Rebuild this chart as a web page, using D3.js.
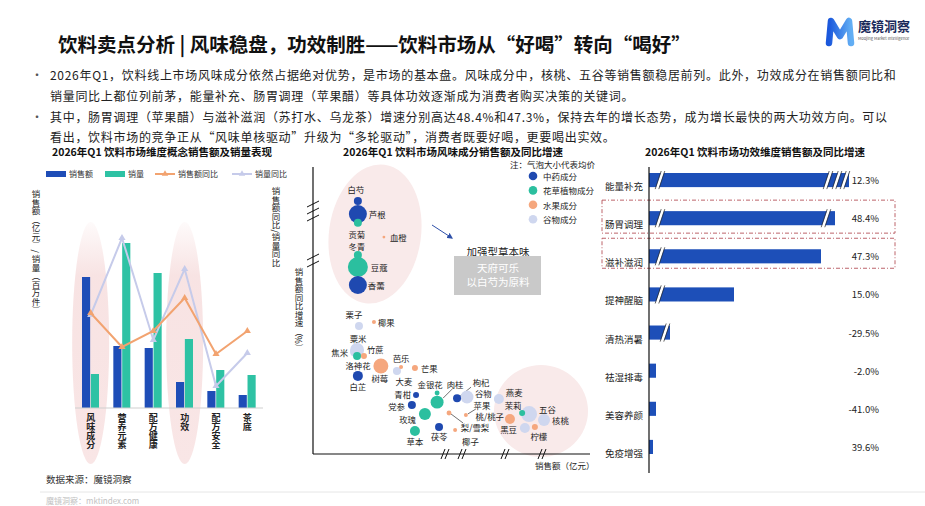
<!DOCTYPE html>
<html>
<head>
<meta charset="utf-8">
<title>饮料卖点分析</title>
<script src="https://cdn.jsdelivr.net/npm/d3@7"></script>
<style>
    body { margin: 0; background: #fff; }
    svg text { font-family: "Noto Sans CJK SC", "Noto Sans", sans-serif; }
</style>
</head>
<body>
<script>

    // ---- data ----
    var paragraphLines = [
        "2026年Q1，饮料线上市场风味成分依然占据绝对优势，是市场的基本盘。风味成分中，核桃、五谷等销售额稳居前列。此外，功效成分在销售额同比和",
        "销量同比上都位列前茅，能量补充、肠胃调理（苹果醋）等具体功效逐渐成为消费者购买决策的关键词。",
        "其中，肠胃调理（苹果醋）与滋补滋润（苏打水、乌龙茶）增速分别高达48.4%和47.3%，保持去年的增长态势，成为增长最快的两大功效方向。可以",
        "看出，饮料市场的竞争正从“风味单核驱动”升级为“多轮驱动”，消费者既要好喝，更要喝出实效。"
    ];
    var bulletLines = [0, 2];

    // left chart: dimension concepts
    var dimCats = ["风味成分", "营养元素", "配方健康", "功效", "配方安全", "茶底"];
    var dimSales = [131, 62, 60, 26, 17, 13];
    var dimVolume = [34, 165, 135, 69, 38, 33];
    var dimSalesYoy = [95, 61, 77, 110, 54, 77];
    var dimVolumeYoy = [93, 170, 68, 139, 22, 55];
    var dimHighlight = ["风味成分", "功效"];

    // middle chart: flavour ingredients
    var typeNames = ["中药成分", "花草植物成分", "水果成分", "谷物成分"];
    var flavorNames = ["白芍", "芦根", "贡菊", "血橙", "冬青", "豆蔻", "香薷", "栗子", "椰果", "粟米", "焦米", "洛神花",
        "竹蔗", "树莓", "白芷", "芭乐", "大麦", "芒果", "金银花", "肉桂", "青柑", "枸杞", "党参", "谷物", "燕麦", "茉莉",
        "苹果", "梨/雪梨", "玫瑰", "五谷", "核桃", "桃/桃子", "黑豆", "柠檬", "草本", "茯苓", "椰子"];
    var flavorTypes = ["中药成分", "中药成分", "花草植物成分", "水果成分", "花草植物成分", "花草植物成分", "中药成分",
        "谷物成分", "水果成分", "谷物成分", "谷物成分", "花草植物成分", "水果成分", "水果成分", "中药成分", "水果成分",
        "谷物成分", "水果成分", "花草植物成分", "花草植物成分", "中药成分", "中药成分", "中药成分", "谷物成分", "谷物成分",
        "花草植物成分", "水果成分", "水果成分", "花草植物成分", "谷物成分", "谷物成分", "水果成分", "谷物成分", "水果成分",
        "花草植物成分", "中药成分", "水果成分"];
    var flavorSales = [16.2, 16.2, 16.2, 25.6, 16.2, 16.2, 16.2, 16.6, 22.0, 15.9, 15.2, 15.9, 18.4, 24.5, 16.2, 31.8,
        30.3, 36.8, 44.8, 44.8, 37.2, 52.0, 35.7, 55.6, 67.1, 75.5, 55.2, 49.1, 40.4, 78.0, 83.4, 71.1, 76.5, 80.1,
        36.8, 45.5, 51.3];
    var flavorGrowth = [88.8, 84.2, 81.1, 76.1, 69.8, 65.6, 59.3, 44.9, 46.3, 36.5, 35.8, 34.4, 34.4, 30.9, 27.4, 30.5,
        29.1, 30.2, 21.4, 18.2, 20.7, 19.6, 17.2, 20.0, 19.3, 14.4, 13.7, 14.4, 14.0, 14.0, 11.9, 12.3, 9.1, 9.5,
        8.1, 9.5, 8.4];
    var flavorPrice = [16, 81, 16, 2, 16, 100, 81, 16, 4, 49, 25, 16, 9, 56, 25, 4, 16, 9, 6, 42, 9, 16, 16, 42, 25, 9,
        4, 6, 36, 64, 36, 25, 25, 9, 25, 16, 4];

    // right chart: efficacy
    var effectCats = ["能量补充", "肠胃调理", "滋补滋润", "提神醒脑", "清热消暑", "祛湿排毒", "美容养颜", "免疫增强"];
    var effectSales = [100, 93, 86, 42.5, 10.5, 3.5, 3.5, 2];
    var effectYoy = [12.3, 48.4, 47.3, 15.0, -29.5, -2.0, -41.0, 39.6];
    var effectHighlight = ["肠胃调理", "滋补滋润"];

    // ---- layout / style ----
    var width = 925, height = 506;
    var blue = "#1e4db7", teal = "#2ec2a4", orange = "#f2a370", lilac = "#c6cbea";
    var typeColors = ["#1f49b0", "#2bbf9f", "#f5a77e", "#cfd7ef"];

    // label offsets for the bubbles [dx, dy, anchor, leader]
    var labelPos = {
        "白芍": [-2, -12, "middle"], "芦根": [11, 0, "start"], "贡菊": [-1, 11, "middle"], "血橙": [6, 0, "start"],
        "冬青": [-1, -9, "middle"], "豆蔻": [13, 0, "start"], "香薷": [10, 0, "start"], "栗子": [-5, -12, "middle"],
        "椰果": [4, 0, "start"], "粟米": [1, -12, "middle"], "焦米": [-7, 0, "end"], "洛神花": [1, 9, "middle"],
        "竹蔗": [3, -7, "start"], "树莓": [-1, 12, "middle"], "白芷": [0, 10, "middle"], "芭乐": [0, -9, "middle"],
        "大麦": [7, 10, "middle"], "芒果": [6, 0, "start"], "金银花": [-7, -9, "middle"],
        "肉桂": [18, -18, "middle", [6, -4, 15, -13]], "青柑": [-5, -1, "end"],
        "枸杞": [24, -16, "middle", [3, -2, 14, -11]], "党参": [-7, 1, "end"], "谷物": [8, -4.5, "start"],
        "燕麦": [7, -7, "start"], "茉莉": [-9, -8, "middle", [-2, -3, -6, -7]],
        "苹果": [16, -10, "middle", [2, -1, 10, -6]], "梨/雪梨": [26, 14, "middle", [2, 1, 14, 10]],
        "玫瑰": [-9, 5, "end"], "五谷": [10, -5, "start"], "核桃": [8, 0, "start"], "桃/桃子": [-6, -3, "end"],
        "黑豆": [-8, 1, "end"], "柠檬": [4, 9, "middle"], "草本": [0, 10, "middle"], "茯苓": [0, 9, "middle"],
        "椰子": [7, 10.5, "start"]
    };

    var svg = d3.select("body")
        .append("svg")
        .attr("width", width)
        .attr("height", height);

    var defs = svg.append("defs");
    var hg = defs.append("linearGradient").attr("id", "hl").attr("x1", 0).attr("y1", 0).attr("x2", 0).attr("y2", 1);
    hg.append("stop").attr("offset", "0%").attr("stop-color", "#f7e0e0").attr("stop-opacity", 0.15);
    hg.append("stop").attr("offset", "22%").attr("stop-color", "#f7e0e0").attr("stop-opacity", 0.9);
    hg.append("stop").attr("offset", "100%").attr("stop-color", "#f9e6e6").attr("stop-opacity", 1);
    var lg = defs.append("linearGradient").attr("id", "logo").attr("x1", 0).attr("y1", 0).attr("x2", 1).attr("y2", 0);
    lg.append("stop").attr("offset", "0%").attr("stop-color", "#1b58dc");
    lg.append("stop").attr("offset", "100%").attr("stop-color", "#62aef4");
    defs.append("marker").attr("id", "arrow").attr("viewBox", "0 0 10 10").attr("refX", 8).attr("refY", 5)
        .attr("markerWidth", 6).attr("markerHeight", 6).attr("orient", "auto")
        .append("path").attr("d", "M0,0 L10,5 L0,10 z").attr("fill", "#2d4fa8");

    // ---- header ----
    svg.append("text").attr("x", 58).attr("y", 52)
        .attr("font-size", 19.5).attr("font-weight", 700).attr("fill", "#111")
        .text("饮料卖点分析 | 风味稳盘，功效制胜——饮料市场从“好喝”转向“喝好”");

    var logo = svg.append("g");
    logo.append("path").attr("d", "M829,43 L831,21 L840,36 L849,21 L851,43")
        .attr("fill", "none").attr("stroke", "url(#logo)").attr("stroke-width", 6.5)
        .attr("stroke-linecap", "round").attr("stroke-linejoin", "round");
    logo.append("text").attr("x", 858).attr("y", 31).attr("font-size", 13).attr("font-weight", 700)
        .attr("fill", "#1a2a5a").text("魔镜洞察");
    logo.append("text").attr("x", 858).attr("y", 40).attr("font-size", 4).attr("fill", "#555")
        .text("Moojing Market Intelligence");

    var lineY = [80, 101, 122, 142];
    paragraphLines.forEach(function (t, i) {
        svg.append("text").attr("x", 50).attr("y", lineY[i]).attr("font-size", 12)
            .attr("letter-spacing", 0.7).attr("fill", "#222").text(t);
    });
    bulletLines.forEach(function (i) {
        svg.append("text").attr("x", 31).attr("y", lineY[i]).attr("font-size", 12).attr("fill", "#555").text("·");
    });

    // ---- left chart ----
    var left = svg.append("g");
    left.append("text").attr("x", 162).attr("y", 156).attr("text-anchor", "middle")
        .attr("font-size", 10.5).attr("font-weight", 700).attr("fill", "#111")
        .text("2026年Q1 饮料市场维度概念销售额及销量表现");

    var x0 = d3.scaleBand().domain(dimCats).range([75, 263]);
    var x1 = d3.scaleBand().domain(["销售额", "销量"]).range([7, 24]).paddingInner(0.08);
    var yL = d3.scaleLinear().domain([0, 180]).range([408, 228]);
    var yR = d3.scaleLinear().domain([0, 180]).range([408, 228]);

    left.selectAll("ellipse.hl").data(dimHighlight).enter().append("ellipse")
        .attr("cx", function (d) { return x0(d) + x0.bandwidth() / 2; })
        .attr("cy", 343).attr("rx", 18.5).attr("ry", 121)
        .attr("fill", "url(#hl)");

    var groups = left.selectAll("g.cat").data(dimCats).enter().append("g")
        .attr("transform", function (d) { return "translate(" + x0(d) + ",0)"; });
    groups.append("rect").attr("x", x1("销售额")).attr("width", x1.bandwidth())
        .attr("y", function (d, i) { return yL(dimSales[i]); })
        .attr("height", function (d, i) { return yL(0) - yL(dimSales[i]); })
        .attr("fill", blue);
    groups.append("rect").attr("x", x1("销量")).attr("width", x1.bandwidth())
        .attr("y", function (d, i) { return yL(dimVolume[i]); })
        .attr("height", function (d, i) { return yL(0) - yL(dimVolume[i]); })
        .attr("fill", teal);

    left.append("line").attr("x1", 75).attr("x2", 263).attr("y1", yL(0)).attr("y2", yL(0))
        .attr("stroke", "#cfcfcf").attr("stroke-width", 1);

    var cx = function (d, i) { return x0(dimCats[i]) + x0.bandwidth() / 2; };
    [[dimVolumeYoy, lilac], [dimSalesYoy, orange]].forEach(function (s) {
        var line = d3.line().x(function (d, i) { return cx(d, i); }).y(function (d) { return yR(d); });
        left.append("path").datum(s[0]).attr("d", line).attr("fill", "none")
            .attr("stroke", s[1]).attr("stroke-width", 2);
        left.selectAll(null).data(s[0]).enter().append("path")
            .attr("d", d3.symbol(d3.symbolTriangle, 22))
            .attr("transform", function (d, i) { return "translate(" + cx(d, i) + "," + yR(d) + ")"; })
            .attr("fill", s[1]);
    });

    left.selectAll("text.cat").data(dimCats).enter().append("text")
        .attr("x", function (d) { return x0(d) + x0.bandwidth() / 2; })
        .attr("y", 413)
        .style("writing-mode", "vertical-rl")
        .attr("font-size", 9).attr("font-weight", 700).attr("fill", "#222")
        .text(function (d) { return d; });

    // legend
    var leg = left.append("g").attr("font-size", 8).attr("fill", "#333");
    leg.append("rect").attr("x", 46).attr("y", 171).attr("width", 20).attr("height", 6).attr("fill", blue);
    leg.append("text").attr("x", 69).attr("y", 177).text("销售额");
    leg.append("rect").attr("x", 105).attr("y", 171).attr("width", 20).attr("height", 6).attr("fill", teal);
    leg.append("text").attr("x", 128).attr("y", 177).text("销量");
    [[155, orange, "销售额同比"], [232, lilac, "销量同比"]].forEach(function (l) {
        leg.append("line").attr("x1", l[0]).attr("x2", l[0] + 20).attr("y1", 174).attr("y2", 174)
            .attr("stroke", l[1]).attr("stroke-width", 2);
        leg.append("path").attr("d", d3.symbol(d3.symbolTriangle, 18))
            .attr("transform", "translate(" + (l[0] + 10) + ",174)").attr("fill", l[1]);
        leg.append("text").attr("x", l[0] + 23).attr("y", 177).text(l[2]);
    });

    left.append("text").attr("x", 36).attr("y", 190).style("writing-mode", "vertical-rl")
        .attr("font-size", 8.5).attr("fill", "#222").text("销售额（亿元）/ 销量（百万件）");
    left.append("text").attr("x", 276).attr("y", 187).style("writing-mode", "vertical-rl")
        .attr("font-size", 8.5).attr("fill", "#222").text("销售额同比/销量同比");

    // ---- middle chart ----
    var mid = svg.append("g");
    mid.append("text").attr("x", 453).attr("y", 156).attr("text-anchor", "middle")
        .attr("font-size", 10.5).attr("font-weight", 700).attr("fill", "#111")
        .text("2026年Q1 饮料市场风味成分销售额及同比增速");

    var xM = d3.scaleLinear().domain([0, 100]).range([313, 590]);
    var yM = d3.scaleLinear().domain([0, 100]).range([454, 169]);
    var rM = d3.scaleSqrt().domain([0, 100]).range([0, 10]);
    var colorM = d3.scaleOrdinal().domain(typeNames).range(typeColors);

    mid.append("ellipse").attr("cx", 375).attr("cy", 234).attr("rx", 46).attr("ry", 70)
        .attr("transform", "rotate(8,375,234)").attr("fill", "#f9eaea");
    mid.append("ellipse").attr("cx", 541).attr("cy", 411).attr("rx", 47).attr("ry", 46).attr("fill", "#f9eaea");

    mid.append("text").attr("x", 299).attr("y", 268).style("writing-mode", "vertical-rl")
        .attr("font-size", 8.5).attr("fill", "#222").text("销售额同比增速（%）");

    var bubbles = flavorNames.map(function (n, i) {
        return { name: n, type: flavorTypes[i], sales: flavorSales[i], growth: flavorGrowth[i], price: flavorPrice[i] };
    });

    // leader lines
    bubbles.forEach(function (b) {
        var p = labelPos[b.name];
        if (p && p[3]) {
            mid.append("line")
                .attr("x1", xM(b.sales) + p[3][0]).attr("y1", yM(b.growth) + p[3][1])
                .attr("x2", xM(b.sales) + p[3][2]).attr("y2", yM(b.growth) + p[3][3])
                .attr("stroke", "#333").attr("stroke-width", 0.7);
        }
    });

    mid.selectAll("circle.b").data(bubbles.slice().sort(function (a, b) { return b.price - a.price; }))
        .enter().append("circle")
        .attr("cx", function (d) { return xM(d.sales); })
        .attr("cy", function (d) { return yM(d.growth); })
        .attr("r", function (d) { return rM(d.price); })
        .attr("fill", function (d) { return colorM(d.type); });

    mid.selectAll("text.b").data(bubbles).enter().append("text")
        .attr("x", function (d) { return xM(d.sales) + labelPos[d.name][0]; })
        .attr("y", function (d) { return yM(d.growth) + labelPos[d.name][1]; })
        .attr("text-anchor", function (d) { return labelPos[d.name][2]; })
        .attr("dominant-baseline", "central")
        .attr("font-size", 8.4).attr("fill", "#222")
        .text(function (d) { return d.name; });

    // axes with break marks
    mid.append("line").attr("x1", xM(0)).attr("x2", xM(0)).attr("y1", 167).attr("y2", yM(0))
        .attr("stroke", "#111").attr("stroke-width", 1.2);
    mid.append("line").attr("x1", xM(0)).attr("x2", xM(100)).attr("y1", yM(0)).attr("y2", yM(0))
        .attr("stroke", "#111").attr("stroke-width", 1.2);
    [204, 211, 218, 257, 264].forEach(function (y) {
        mid.append("line").attr("x1", xM(0) - 6).attr("y1", y + 3).attr("x2", xM(0) + 6).attr("y2", y - 3)
            .attr("stroke", "#111").attr("stroke-width", 1);
    });
    [445, 462, 505, 542].forEach(function (x) {
        [-2, 2].forEach(function (o) {
            mid.append("line").attr("x1", x + o - 2).attr("y1", yM(0) + 5).attr("x2", x + o + 2).attr("y2", yM(0) - 5)
                .attr("stroke", "#111").attr("stroke-width", 1);
        });
    });
    mid.append("text").attr("x", 535).attr("y", 469).attr("font-size", 8.5).attr("fill", "#222").text("销售额（亿元）");

    // legend
    mid.append("text").attr("x", 510).attr("y", 168).attr("font-size", 8.5).attr("fill", "#222").text("注：气泡大小代表均价");
    typeNames.forEach(function (t, i) {
        mid.append("circle").attr("cx", 533).attr("cy", 176 + i * 14.4).attr("r", 4.3).attr("fill", typeColors[i]);
        mid.append("text").attr("x", 543).attr("y", 176 + i * 14.4).attr("dominant-baseline", "central")
            .attr("font-size", 8.5).attr("fill", "#222").text(t);
    });

    // annotation
    mid.append("line").attr("x1", 432).attr("y1", 225).attr("x2", 452).attr("y2", 238)
        .attr("stroke", "#2d4fa8").attr("stroke-width", 1).attr("marker-end", "url(#arrow)");
    mid.append("text").attr("x", 498).attr("y", 251).attr("text-anchor", "middle").attr("dominant-baseline", "central")
        .attr("font-size", 10.5).attr("fill", "#222").text("加强型草本味");
    mid.append("rect").attr("x", 454).attr("y", 256).attr("width", 87).attr("height", 39).attr("fill", "#c9c9c9");
    mid.append("text").attr("x", 498).attr("y", 267).attr("text-anchor", "middle").attr("dominant-baseline", "central")
        .attr("font-size", 10.5).attr("fill", "#fff").text("天府可乐");
    mid.append("text").attr("x", 498).attr("y", 281).attr("text-anchor", "middle").attr("dominant-baseline", "central")
        .attr("font-size", 10.5).attr("fill", "#fff").text("以白芍为原料");

    // ---- right chart ----
    var right = svg.append("g");
    right.append("text").attr("x", 755).attr("y", 156).attr("text-anchor", "middle")
        .attr("font-size", 10.5).attr("font-weight", 700).attr("fill", "#111")
        .text("2026年Q1 饮料市场功效维度销售额及同比增速");

    var xE = d3.scaleLinear().domain([0, 100]).range([649, 849]);
    var yE = d3.scaleBand().domain(effectCats).range([161, 466]).paddingInner(0.63).paddingOuter(0.315);

    right.selectAll("rect.hb").data(effectHighlight).enter().append("rect")
        .attr("x", 602).attr("width", 293)
        .attr("y", function (d) { return yE(d) - 11; })
        .attr("height", function (d, i) { return i === 0 ? 33 : 30; })
        .attr("fill", "none").attr("stroke", "#b5525a").attr("stroke-width", 0.9)
        .attr("stroke-dasharray", "4,2,1,2");

    right.selectAll("rect.bar").data(effectCats).enter().append("rect")
        .attr("x", xE(0)).attr("y", function (d) { return yE(d); })
        .attr("width", function (d, i) { return xE(effectSales[i]) - xE(0); })
        .attr("height", yE.bandwidth()).attr("fill", "#1d4fb8");

    // break marks on the long bars
    var breaks = [[5.5, 89.5, 94, 98], [5.5, 88.5], [5.5], [5.5], [8]];
    breaks.forEach(function (bx, i) {
        var y0 = yE(effectCats[i]), h = yE.bandwidth();
        bx.forEach(function (v) {
            var x = xE(v);
            right.append("line").attr("x1", x - 3).attr("y1", y0 + h + 2).attr("x2", x + 3).attr("y2", y0 - 2)
                .attr("stroke", "#fff").attr("stroke-width", 3);
            [-1.8, 1.8].forEach(function (o) {
                right.append("line").attr("x1", x - 3 + o).attr("y1", y0 + h + 2).attr("x2", x + 3 + o).attr("y2", y0 - 2)
                    .attr("stroke", "#222").attr("stroke-width", 0.7);
            });
        });
    });

    right.append("line").attr("x1", xE(0)).attr("x2", xE(0)).attr("y1", 167).attr("y2", 473)
        .attr("stroke", "#111").attr("stroke-width", 1.2);

    right.selectAll("text.cat").data(effectCats).enter().append("text")
        .attr("x", 643).attr("y", function (d) { return yE(d) + yE.bandwidth() / 2 + 6; })
        .attr("text-anchor", "end").attr("dominant-baseline", "central")
        .attr("font-size", 9.5).attr("fill", "#222").text(function (d) { return d; });

    right.selectAll("text.pct").data(effectYoy).enter().append("text")
        .attr("x", 879).attr("y", function (d, i) { return yE(effectCats[i]) + yE.bandwidth() / 2; })
        .attr("text-anchor", "end").attr("dominant-baseline", "central")
        .attr("font-size", 9.5).attr("fill", "#222").text(function (d) { return d.toFixed(1) + "%"; });

    // ---- footer ----
    svg.append("text").attr("x", 46).attr("y", 483).attr("font-size", 9.5).attr("fill", "#333").text("数据来源：魔镜洞察");
    svg.append("line").attr("x1", 40).attr("x2", 925).attr("y1", 492).attr("y2", 492).attr("stroke", "#e6e6e6");
    svg.append("text").attr("x", 46).attr("y", 504).attr("font-size", 8).attr("fill", "#c2c2c2").text("魔镜洞察：mktindex.com");

</script>
</body>
</html>
